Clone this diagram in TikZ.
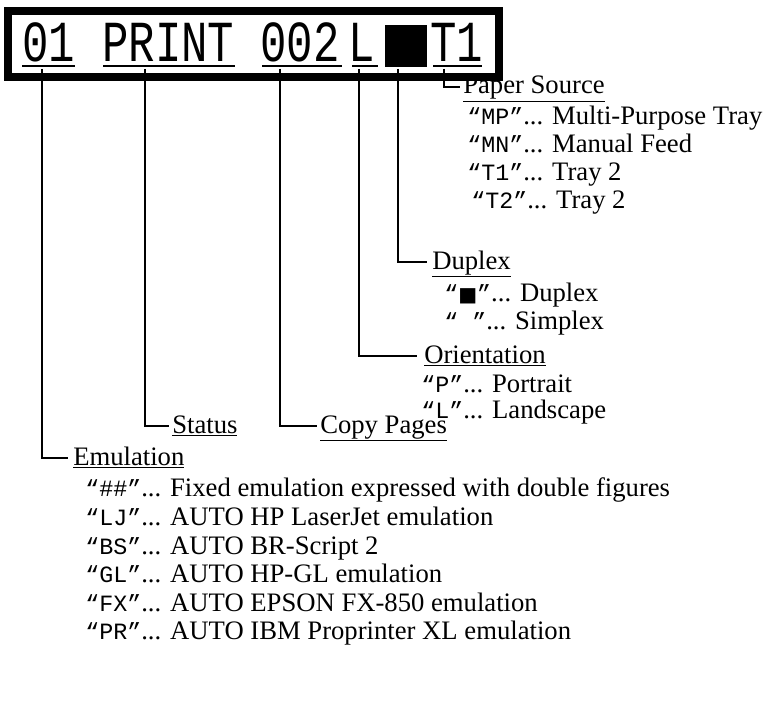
\documentclass[tikz,border=0pt]{standalone}
\usepackage{fontspec}
\usepackage{graphicx}
\setmainfont{Liberation Serif}
\setmonofont{Liberation Mono}
\newfontfamily\symf{DejaVu Sans}
\newcommand{\mq}[1]{{\fontsize{17.5}{17.5}\selectfont\ttfamily“#1”}}
\begin{document}
\begin{tikzpicture}[x=0.75pt,y=-0.75pt,
  disp/.style={anchor=base west,inner sep=0pt,font=\ttfamily\fontsize{33}{33}\selectfont},
  lbl/.style={anchor=base west,inner sep=0pt,font=\fontsize{20}{23}\selectfont},
  ln/.style={line width=1.2pt},
  ul/.style={line width=1.1pt}]
\useasboundingbox (0,0) rectangle (784,709);
\draw[line width=6pt] (8,11) rectangle (499,77);
\node[disp] (d1) at (22,62) {\scalebox{1}[1.32]{01}};
\node[disp] (d2) at (102,62) {\scalebox{1}[1.32]{PRINT}};
\node[disp] (d3) at (260,62) {\scalebox{1}[1.32]{002}};
\node[disp] (d4) at (348,62) {\scalebox{1}[1.32]{L}};
\node[inner sep=0pt,minimum width=31,minimum height=31,fill=black] (d5) at (406,46) {};
\node[disp] (d6) at (430,62) {\scalebox{1}[1.32]{T1}};
\draw[ul] (22,66) -- (75,66) (103,66) -- (235,66) (262,66) -- (342,66)
  (352,66) -- (378,66) (389,66) -- (423,66) (433,66) -- (482,66);
% labels
\node[lbl] (ps) at (463,94) {\underline{Paper Source}};
\node[lbl] (du) at (432,269) {\underline{Duplex}};
\node[lbl] (or) at (424,363) {\underline{Orientation}};
\node[lbl] (cp) at (320,433) {\underline{Copy Pages}};
\node[lbl] (st) at (172,433) {\underline{Status}};
\node[lbl] (em) at (73,465) {\underline{Emulation}};
\coordinate (c6) at (444,69); \coordinate (c5) at (398,69); \coordinate (c4) at (359,69);
\coordinate (c3) at (280,69); \coordinate (c2) at (145,69); \coordinate (c1) at (42,69);
\draw[ln] (c6) |- ([xshift=-2]ps.west |- 0,87);
\draw[ln] (c5) |- ([xshift=-4]du.west |- 0,262);
\draw[ln] (c4) |- ([xshift=-5]or.west |- 0,356);
\draw[ln] (c3) |- ([xshift=-2]cp.west |- 0,426);
\draw[ln] (c2) |- ([xshift=-2]st.west |- 0,426);
\draw[ln] (c1) |- ([xshift=-4]em.west |- 0,458);
% items
\node[lbl] (p1) at (467,125) {\mq{MP}... Multi-Purpose Tray};
\node[lbl] (p2) at (467,153) {\mq{MN}... Manual Feed};
\node[lbl] (p3) at (467,181) {\mq{T1}... Tray 2};
\node[lbl] (p4) at (471,209) {\mq{T2}... Tray 2};
\node[lbl] (u1) at (444,301) {{\fontsize{17.5}{17.5}\selectfont\ttfamily“}{\symf\fontsize{15}{15}\selectfont■}{\fontsize{17.5}{17.5}\selectfont\ttfamily”}... Duplex};
\node[lbl] (u2) at (444,329) {\mq{\ }... Simplex};
\node[lbl] (o1) at (421,392) {\mq{P}... Portrait};
\node[lbl] (o2) at (421,418) {\mq{L}... Landscape};
\node[lbl] (e1) at (85,496) {\mq{\#\#}... Fixed emulation expressed with double figures};
\node[lbl] (e2) at (85,525) {\mq{LJ}... AUTO HP LaserJet emulation};
\node[lbl] (e3) at (85,554) {\mq{BS}... AUTO BR-Script 2};
\node[lbl] (e4) at (85,582) {\mq{GL}... AUTO HP-GL emulation};
\node[lbl] (e5) at (85,611) {\mq{FX}... AUTO EPSON FX-850 emulation};
\node[lbl] (e6) at (85,639) {\mq{PR}... AUTO IBM Proprinter XL emulation};
\end{tikzpicture}
\end{document}
